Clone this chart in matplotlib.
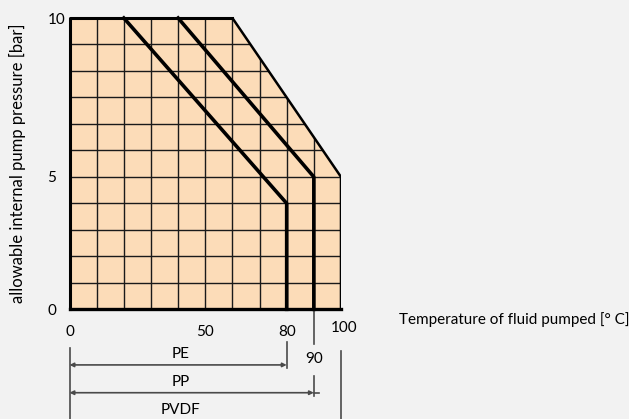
import matplotlib.pyplot as plt
from matplotlib.patches import Polygon
from matplotlib.transforms import ScaledTranslation

# envelope of the usable range (PVDF) and the PE / PP limit lines
envelope_x = [0, 0, 60, 100, 100]
envelope_y = [0, 11, 11, 5, 0]
pe_x = [20, 80, 80]
pe_y = [11, 4, 0]
pp_x = [40, 90, 90]
pp_y = [11, 5, 0]

x_ticks = [0, 50, 80, 100]
x_labels = ['0', '50', '80', '100']
y_ticks = [0, 5, 11]
y_labels = ['0', '5', '10']

materials = ['PE', 'PP', 'PVDF']
material_max = [80, 90, 100]


def main():
    plt.rcParams['font.family'] = ['Lato', 'DejaVu Sans']
    plt.rcParams['font.size'] = 11

    fig = plt.figure(figsize=(6.29, 4.19), dpi=100, facecolor='#f2f2f2')
    ax = fig.add_axes([0.1105, 0.2618, 0.4316, 0.6952])
    ax.set_facecolor('none')
    ax.set_xlim(0, 100)
    ax.set_ylim(0, 11)
    for s in ax.spines.values():
        s.set_visible(False)

    # filled envelope
    poly = Polygon(list(zip(envelope_x, envelope_y)), closed=True,
                   facecolor='#fcdcb8', edgecolor='none', zorder=1)
    ax.add_patch(poly)

    # grid, clipped to the envelope
    gx = ax.vlines(range(0, 101, 10), 0, 11, color='#1a1a1a', lw=1.0, zorder=2)
    gy = ax.hlines(range(0, 12), 0, 100, color='#1a1a1a', lw=1.0, zorder=2)
    gx.set_clip_path(poly)
    gy.set_clip_path(poly)

    # envelope border
    ax.plot(envelope_x[2:], envelope_y[2:], color='black', lw=1.8, zorder=3,
            solid_capstyle='butt')
    ax.plot([0, 0, 60], [0, 11, 11], color='black', lw=2.2, zorder=3,
            clip_on=False)
    ax.plot([0, 100], [0, 0], color='black', lw=2.4, zorder=3, clip_on=False)

    # PE and PP limits
    ax.plot(pe_x, pe_y, color='black', lw=2.6, zorder=4, clip_on=False)
    ax.plot(pp_x, pp_y, color='black', lw=2.6, zorder=4, clip_on=False)

    # ticks
    ax.set_xticks(x_ticks, x_labels)
    ax.set_yticks(y_ticks, y_labels)
    ax.tick_params(length=0)
    ax.tick_params(axis='x', pad=11)
    ax.tick_params(axis='y', pad=16)
    for lbl in ax.get_yticklabels():
        lbl.set_ha('left')
    lbl100 = ax.get_xticklabels()[-1]
    lbl100.set_transform(lbl100.get_transform() +
                         ScaledTranslation(0.03, 0.04, fig.dpi_scale_trans))

    ax.set_ylabel('allowable internal pump pressure [bar]', fontsize=12)
    ax.yaxis.set_label_coords(-0.162, 0.5)
    ax.text(121.4, -0.4, 'Temperature of fluid pumped [° C]', ha='left',
            va='center', clip_on=False)

    # range annotations below the chart
    lc = '#4a4a4a'
    ax.plot([90, 90], [0, -1.31], color=lc, lw=1.2, clip_on=False)
    ax.text(90, -1.88, '90', ha='center', va='center', clip_on=False)
    ax.plot([90, 90], [-2.52, -3.27], color=lc, lw=1.2, clip_on=False)
    ax.plot([80, 80], [-1.22, -2.22], color=lc, lw=1.2, clip_on=False)
    ax.plot([0, 0], [-1.45, -4.2], color=lc, lw=1.2, clip_on=False)
    ax.plot([100, 100], [-1.56, -4.2], color=lc, lw=1.2, clip_on=False)

    arrow_y = [-2.10, -3.15]
    text_y = [-1.69, -2.73, -3.80]
    for i, name in enumerate(materials):
        ax.text(41, text_y[i], name, ha='center', va='center', clip_on=False)
        if i < 2:
            ax.annotate('', xy=(material_max[i], arrow_y[i]), xytext=(0, arrow_y[i]),
                        annotation_clip=False,
                        arrowprops=dict(arrowstyle='<|-|>', color=lc, lw=1.2,
                                        mutation_scale=6, shrinkA=0, shrinkB=0))
    ax.plot([90, 92], [arrow_y[1], arrow_y[1]], color=lc, lw=1.2, clip_on=False)

    fig.savefig('out.png', dpi=100, facecolor=fig.get_facecolor())


if __name__ == '__main__':
    main()
